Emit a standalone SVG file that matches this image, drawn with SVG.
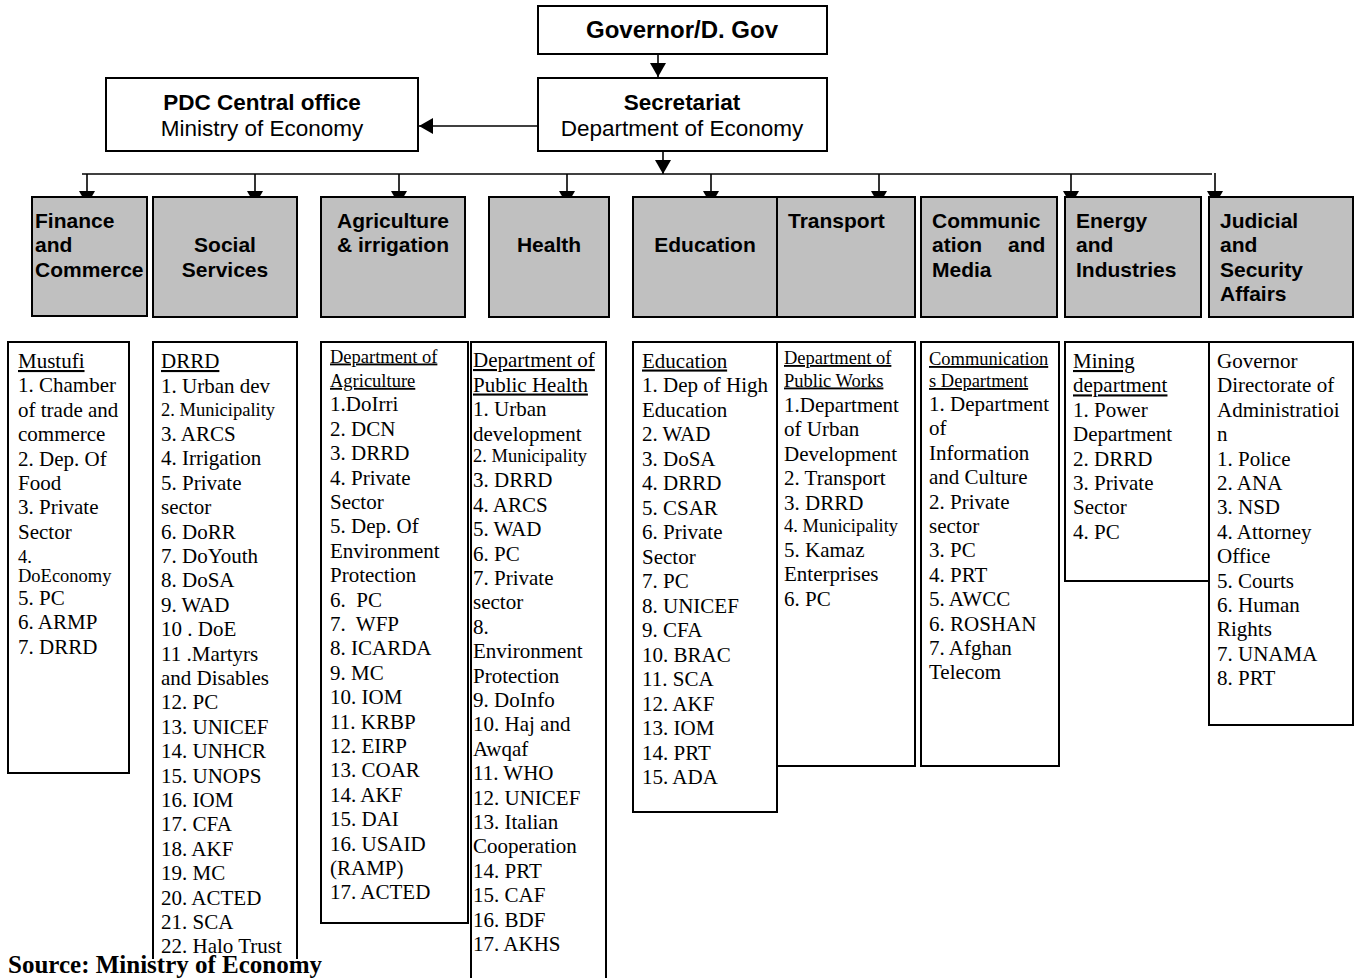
<svg xmlns="http://www.w3.org/2000/svg" width="1359" height="978" viewBox="0 0 1359 978">
<style>
.bx{fill:#fff;stroke:#000;stroke-width:2}
.cat{fill:#c0c0c0;stroke:#000;stroke-width:2}
.lst{fill:#fff;stroke:#000;stroke-width:2}
.open{fill:none;stroke:#000;stroke-width:2}
.hb{font-family:"Liberation Sans",Arial,sans-serif;font-weight:bold;font-size:22.5px;fill:#000}
.hr{font-family:"Liberation Sans",Arial,sans-serif;font-size:22.5px;fill:#000}
.ct{font-family:"Liberation Sans",Arial,sans-serif;font-weight:bold;font-size:21px;fill:#000}
.t{font-family:"Liberation Serif","Times New Roman",serif;font-size:21px;fill:#000}
.s{font-size:18.5px}
.u{text-decoration:underline}
.src{font-family:"Liberation Serif","Times New Roman",serif;font-weight:bold;font-size:25px;fill:#000}
.ln{fill:none;stroke:#000;stroke-width:1.6}
</style>
<defs>
<marker id="ah" markerUnits="userSpaceOnUse" markerWidth="15" markerHeight="16" refX="14" refY="8" orient="auto">
<path d="M0,0 L14,8 L0,16 z" fill="#000"/>
</marker>
</defs>
<rect width="1359" height="978" fill="#fff"/>

<g id="governor">
<rect class="bx" x="538" y="6" width="289" height="48"/>
<text class="hb" x="682" y="38" text-anchor="middle" style="font-size:24px">Governor/D. Gov</text>
</g>
<g id="secretariat">
<rect class="bx" x="538" y="78" width="289" height="73"/>
<text class="hb" x="682" y="110" text-anchor="middle">Secretariat</text>
<text class="hr" x="682" y="136" text-anchor="middle">Department of Economy</text>
</g>
<g id="pdc">
<rect class="bx" x="106" y="78" width="312" height="73"/>
<text class="hb" x="262" y="110" text-anchor="middle">PDC Central office</text>
<text class="hr" x="262" y="136" text-anchor="middle">Ministry of Economy</text>
</g>

<g id="connectors">
<line class="ln" x1="658" y1="54" x2="658" y2="77" marker-end="url(#ah)"/>
<line class="ln" x1="538" y1="126" x2="419" y2="126" marker-end="url(#ah)"/>
<line class="ln" x1="663" y1="151" x2="663" y2="174" marker-end="url(#ah)"/>
<line class="ln" x1="82" y1="174" x2="1212" y2="174"/>
<line class="ln" x1="87" y1="174" x2="87" y2="205" marker-end="url(#ah)"/>
<line class="ln" x1="255" y1="174" x2="255" y2="205" marker-end="url(#ah)"/>
<line class="ln" x1="399" y1="174" x2="399" y2="205" marker-end="url(#ah)"/>
<line class="ln" x1="567" y1="174" x2="567" y2="205" marker-end="url(#ah)"/>
<line class="ln" x1="711" y1="174" x2="711" y2="205" marker-end="url(#ah)"/>
<line class="ln" x1="879" y1="174" x2="879" y2="205" marker-end="url(#ah)"/>
<line class="ln" x1="1071" y1="174" x2="1071" y2="205" marker-end="url(#ah)"/>
<line class="ln" x1="1215" y1="173" x2="1215" y2="205" marker-end="url(#ah)"/>
</g>

<g id="cat-finance">
<rect class="cat" x="32" y="197" width="115" height="119"/>
<text class="ct" x="35" y="228">Finance</text>
<text class="ct" x="35" y="252">and</text>
<text class="ct" x="35" y="277">Commerce</text>
</g>
<g id="cat-social">
<rect class="cat" x="153" y="197" width="144" height="120"/>
<text class="ct" x="225" y="252" text-anchor="middle">Social</text>
<text class="ct" x="225" y="277" text-anchor="middle">Services</text>
</g>
<g id="cat-agriculture">
<rect class="cat" x="321" y="197" width="144" height="120"/>
<text class="ct" x="393" y="228" text-anchor="middle">Agriculture</text>
<text class="ct" x="393" y="252" text-anchor="middle">&amp; irrigation</text>
</g>
<g id="cat-health">
<rect class="cat" x="489" y="197" width="120" height="120"/>
<text class="ct" x="549" y="252" text-anchor="middle">Health</text>
</g>
<g id="cat-education">
<rect class="cat" x="633" y="197" width="144" height="120"/>
<text class="ct" x="705" y="252" text-anchor="middle">Education</text>
</g>
<g id="cat-transport">
<rect class="cat" x="777" y="197" width="138" height="120"/>
<text class="ct" x="788" y="228">Transport</text>
</g>
<g id="cat-communication">
<rect class="cat" x="921" y="197" width="136" height="120"/>
<text class="ct" x="932" y="228">Communic</text>
<text class="ct" y="252"><tspan x="932">ation</tspan><tspan x="1008">and</tspan></text>
<text class="ct" x="932" y="277">Media</text>
</g>
<g id="cat-energy">
<rect class="cat" x="1065" y="197" width="136" height="120"/>
<text class="ct" x="1076" y="228">Energy</text>
<text class="ct" x="1076" y="252">and</text>
<text class="ct" x="1076" y="277">Industries</text>
</g>
<g id="cat-judicial">
<rect class="cat" x="1209" y="197" width="144" height="120"/>
<text class="ct" x="1220" y="228">Judicial</text>
<text class="ct" x="1220" y="252">and</text>
<text class="ct" x="1220" y="277">Security</text>
<text class="ct" x="1220" y="301">Affairs</text>
</g>

<g id="list-finance">
<rect class="lst" x="8" y="342" width="121" height="431"/>
<text class="t">
<tspan x="18" y="368" class="u">Mustufi</tspan>
<tspan x="18" y="392.4">1. Chamber</tspan>
<tspan x="18" y="416.8">of trade and</tspan>
<tspan x="18" y="441.2">commerce</tspan>
<tspan x="18" y="465.6">2. Dep. Of</tspan>
<tspan x="18" y="490">Food</tspan>
<tspan x="18" y="514.4">3. Private</tspan>
<tspan x="18" y="538.8">Sector</tspan>
<tspan x="18" y="562.7" class="s">4.</tspan>
<tspan x="18" y="581.7" class="s">DoEconomy</tspan>
<tspan x="18" y="605">5. PC</tspan>
<tspan x="18" y="629.4">6. ARMP</tspan>
<tspan x="18" y="653.8">7. DRRD</tspan>
</text>
</g>

<g id="list-social">
<path class="open" d="M153,959 V342 H297 V959"/>
<text class="t">
<tspan x="161" y="368" class="u">DRRD</tspan>
<tspan x="161" y="392.5">1. Urban dev</tspan>
<tspan x="161" y="415.5" class="s">2. Municipality</tspan>
<tspan x="161" y="441">3. ARCS</tspan>
<tspan x="161" y="465.4">4. Irrigation</tspan>
<tspan x="161" y="489.8">5. Private</tspan>
<tspan x="161" y="514.2">sector</tspan>
<tspan x="161" y="538.6">6. DoRR</tspan>
<tspan x="161" y="563">7. DoYouth</tspan>
<tspan x="161" y="587.4">8. DoSA</tspan>
<tspan x="161" y="611.8">9. WAD</tspan>
<tspan x="161" y="636.2">10 . DoE</tspan>
<tspan x="161" y="660.6">11 .Martyrs</tspan>
<tspan x="161" y="685">and Disables</tspan>
<tspan x="161" y="709.4">12. PC</tspan>
<tspan x="161" y="733.8">13. UNICEF</tspan>
<tspan x="161" y="758.2">14. UNHCR</tspan>
<tspan x="161" y="782.6">15. UNOPS</tspan>
<tspan x="161" y="807">16. IOM</tspan>
<tspan x="161" y="831.4">17. CFA</tspan>
<tspan x="161" y="855.8">18. AKF</tspan>
<tspan x="161" y="880.2">19. MC</tspan>
<tspan x="161" y="904.6">20. ACTED</tspan>
<tspan x="161" y="929">21. SCA</tspan>
<tspan x="161" y="953">22. Halo Trust</tspan>
</text>
</g>

<g id="list-agriculture">
<rect class="lst" x="321" y="342" width="147" height="581"/>
<text class="t" xml:space="preserve">
<tspan x="330" y="362.5" class="s u">Department of</tspan>
<tspan x="330" y="386.9" class="s u">Agriculture</tspan>
<tspan x="330" y="411.3">1.DoIrri</tspan>
<tspan x="330" y="435.7">2. DCN</tspan>
<tspan x="330" y="460.1">3. DRRD</tspan>
<tspan x="330" y="484.5">4. Private</tspan>
<tspan x="330" y="508.9">Sector</tspan>
<tspan x="330" y="533.3">5. Dep. Of</tspan>
<tspan x="330" y="557.7">Environment</tspan>
<tspan x="330" y="582.1">Protection</tspan>
<tspan x="330" y="606.5">6.  PC</tspan>
<tspan x="330" y="630.9">7.  WFP</tspan>
<tspan x="330" y="655.3">8. ICARDA</tspan>
<tspan x="330" y="679.7">9. MC</tspan>
<tspan x="330" y="704.1">10. IOM</tspan>
<tspan x="330" y="728.5">11. KRBP</tspan>
<tspan x="330" y="752.9">12. EIRP</tspan>
<tspan x="330" y="777.3">13. COAR</tspan>
<tspan x="330" y="801.7">14. AKF</tspan>
<tspan x="330" y="826.1">15. DAI</tspan>
<tspan x="330" y="850.5">16. USAID</tspan>
<tspan x="330" y="874.9">(RAMP)</tspan>
<tspan x="330" y="899.3">17. ACTED</tspan>
</text>
</g>

<g id="list-health">
<path class="open" d="M471,980 V342 H606 V980"/>
<text class="t">
<tspan x="473" y="367" class="u">Department of</tspan>
<tspan x="473" y="391.5" class="u">Public Health</tspan>
<tspan x="473" y="416">1. Urban</tspan>
<tspan x="473" y="440.5">development</tspan>
<tspan x="473" y="462" class="s">2. Municipality</tspan>
<tspan x="473" y="487.3">3. DRRD</tspan>
<tspan x="473" y="511.7">4. ARCS</tspan>
<tspan x="473" y="536.1">5. WAD</tspan>
<tspan x="473" y="560.5">6. PC</tspan>
<tspan x="473" y="584.9">7. Private</tspan>
<tspan x="473" y="609.3">sector</tspan>
<tspan x="473" y="633.7">8.</tspan>
<tspan x="473" y="658.1">Environment</tspan>
<tspan x="473" y="682.5">Protection</tspan>
<tspan x="473" y="706.9">9. DoInfo</tspan>
<tspan x="473" y="731.3">10. Haj and</tspan>
<tspan x="473" y="755.7">Awqaf</tspan>
<tspan x="473" y="780.1">11. WHO</tspan>
<tspan x="473" y="804.5">12. UNICEF</tspan>
<tspan x="473" y="828.9">13. Italian</tspan>
<tspan x="473" y="853.3">Cooperation</tspan>
<tspan x="473" y="877.7">14. PRT</tspan>
<tspan x="473" y="902.1">15. CAF</tspan>
<tspan x="473" y="926.5">16. BDF</tspan>
<tspan x="473" y="950.9">17. AKHS</tspan>
</text>
</g>

<g id="list-education">
<rect class="lst" x="633" y="342" width="144" height="470"/>
<text class="t">
<tspan x="642" y="367.5" class="u">Education</tspan>
<tspan x="642" y="392">1. Dep of High</tspan>
<tspan x="642" y="416.5">Education</tspan>
<tspan x="642" y="441">2. WAD</tspan>
<tspan x="642" y="465.5">3. DoSA</tspan>
<tspan x="642" y="490">4. DRRD</tspan>
<tspan x="642" y="514.5">5. CSAR</tspan>
<tspan x="642" y="539">6. Private</tspan>
<tspan x="642" y="563.5">Sector</tspan>
<tspan x="642" y="588">7. PC</tspan>
<tspan x="642" y="612.5">8. UNICEF</tspan>
<tspan x="642" y="637">9. CFA</tspan>
<tspan x="642" y="661.5">10. BRAC</tspan>
<tspan x="642" y="686">11. SCA</tspan>
<tspan x="642" y="710.5">12. AKF</tspan>
<tspan x="642" y="735">13. IOM</tspan>
<tspan x="642" y="759.5">14. PRT</tspan>
<tspan x="642" y="784">15. ADA</tspan>
</text>
</g>

<g id="list-transport">
<rect class="lst" x="777" y="342" width="138" height="424"/>
<text class="t">
<tspan x="784" y="364" class="s u">Department of</tspan>
<tspan x="784" y="386.5" class="s u">Public Works</tspan>
<tspan x="784" y="411.5">1.Department</tspan>
<tspan x="784" y="436">of Urban</tspan>
<tspan x="784" y="460.5">Development</tspan>
<tspan x="784" y="485">2. Transport</tspan>
<tspan x="784" y="509.5">3. DRRD</tspan>
<tspan x="784" y="531.5" class="s">4. Municipality</tspan>
<tspan x="784" y="556.5">5. Kamaz</tspan>
<tspan x="784" y="581">Enterprises</tspan>
<tspan x="784" y="605.5">6. PC</tspan>
</text>
</g>

<g id="list-communication">
<rect class="lst" x="921" y="342" width="138" height="424"/>
<text class="t">
<tspan x="929" y="365" class="s u">Communication</tspan>
<tspan x="929" y="387" class="s u">s Department</tspan>
<tspan x="929" y="411">1. Department</tspan>
<tspan x="929" y="435.4">of</tspan>
<tspan x="929" y="459.8">Information</tspan>
<tspan x="929" y="484.2">and Culture</tspan>
<tspan x="929" y="508.6">2. Private</tspan>
<tspan x="929" y="533">sector</tspan>
<tspan x="929" y="557.4">3. PC</tspan>
<tspan x="929" y="581.8">4. PRT</tspan>
<tspan x="929" y="606.2">5. AWCC</tspan>
<tspan x="929" y="630.6">6. ROSHAN</tspan>
<tspan x="929" y="655">7. Afghan</tspan>
<tspan x="929" y="679.4">Telecom</tspan>
</text>
</g>

<g id="list-energy">
<rect class="lst" x="1065" y="342" width="144" height="239"/>
<text class="t">
<tspan x="1073" y="368" class="u">Mining</tspan>
<tspan x="1073" y="392.4" class="u">department</tspan>
<tspan x="1073" y="416.8">1. Power</tspan>
<tspan x="1073" y="441.2">Department</tspan>
<tspan x="1073" y="465.6">2. DRRD</tspan>
<tspan x="1073" y="490">3. Private</tspan>
<tspan x="1073" y="514.4">Sector</tspan>
<tspan x="1073" y="538.8">4. PC</tspan>
</text>
</g>

<g id="list-judicial">
<rect class="lst" x="1209" y="342" width="144" height="383"/>
<text class="t">
<tspan x="1217" y="368">Governor</tspan>
<tspan x="1217" y="392.4">Directorate of</tspan>
<tspan x="1217" y="416.8">Administratioi</tspan>
<tspan x="1217" y="441.2">n</tspan>
<tspan x="1217" y="465.6">1. Police</tspan>
<tspan x="1217" y="490">2. ANA</tspan>
<tspan x="1217" y="514.4">3. NSD</tspan>
<tspan x="1217" y="538.8">4. Attorney</tspan>
<tspan x="1217" y="563.2">Office</tspan>
<tspan x="1217" y="587.6">5. Courts</tspan>
<tspan x="1217" y="612">6. Human</tspan>
<tspan x="1217" y="636.4">Rights</tspan>
<tspan x="1217" y="660.8">7. UNAMA</tspan>
<tspan x="1217" y="685.2">8. PRT</tspan>
</text>
</g>

<g id="source">
<text class="src" x="8" y="973">Source: Ministry of Economy</text>
</g>
</svg>
